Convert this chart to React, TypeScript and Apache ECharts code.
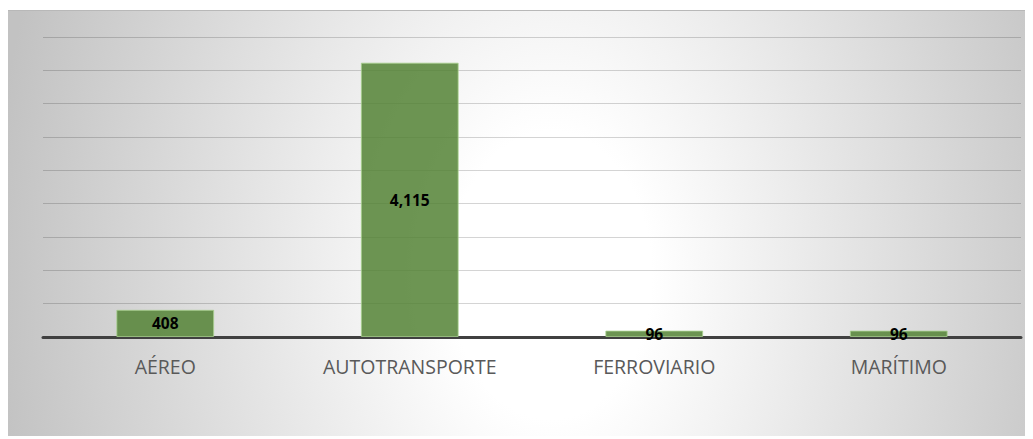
import React, { useEffect, useRef } from "react";
import * as echarts from "echarts";

const categories = ["AÉREO", "AUTOTRANSPORTE", "FERROVIARIO", "MARÍTIMO"];
const values = [408, 4115, 96, 96];
const yMin = 0;
const yMax = 4500;
const yInterval = 500;

export default function App() {
  const ref = useRef<HTMLDivElement>(null);
  useEffect(() => {
    if (!ref.current) return;
    const chart = echarts.init(ref.current, undefined, { renderer: "svg" });
    chart.setOption({
      animation: false,
      grid: { left: 36, right: 12, top: 27, bottom: 101, containLabel: false },
      xAxis: {
        type: "category",
        data: categories,
        axisTick: { show: false },
        axisLine: { lineStyle: { color: "#404040", width: 3 } },
        axisLabel: {
          color: "#595959",
          fontSize: 19.5,
          fontFamily: "Open Sans",
          margin: 19,
        },
      },
      yAxis: {
        type: "value",
        min: yMin,
        max: yMax,
        interval: yInterval,
        axisLabel: { show: false },
        axisLine: { show: false },
        axisTick: { show: false },
        splitLine: { lineStyle: { color: "rgba(0,0,0,0.17)", width: 1 } },
      },
      series: [
        {
          type: "bar",
          data: values,
          barWidth: "40%",
          itemStyle: {
            color: "rgba(84,130,53,0.85)",
            borderColor: "rgba(169,209,142,0.8)",
            borderWidth: 1,
          },
          label: {
            show: true,
            position: "inside",
            color: "#000000",
            fontWeight: "bold",
            fontSize: 15.5,
            fontFamily: "Open Sans",
            formatter: (p: any) => Number(p.value).toLocaleString("en-US"),
          },
        },
      ],
    });
    return () => chart.dispose();
  }, []);
  return (
    <div
      style={{
        position: "relative",
        left: -1,
        top: 2,
        width: 1026,
        height: 428,
        background:
          "radial-gradient(ellipse 560px 800px at 53% 62%, #ffffff 0%, #ffffff 18%, #c2c2c2 100%)",
        boxShadow: "inset 0 1px #b8b8b8, inset 1px 0 #c0c0c0",
      }}
    >
      <div ref={ref} style={{ width: 1026, height: 428 }} />
    </div>
  );
}
